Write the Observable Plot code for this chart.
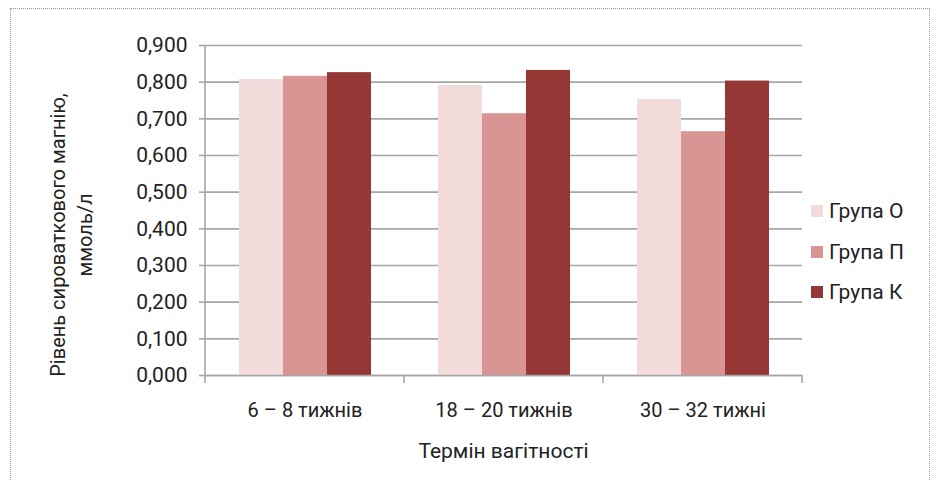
<!DOCTYPE html>
<html><head><meta charset="utf-8">
<script src="https://cdn.jsdelivr.net/npm/d3@7"></script>
<script src="https://cdn.jsdelivr.net/npm/@observablehq/plot@0.6"></script>
<style>
body{margin:0;background:#fff;}
#wrap{position:relative;width:941px;height:481px;overflow:hidden;font-family:Roboto,"Noto Sans",sans-serif;color:#222;}
#border{position:absolute;left:10px;top:8px;width:920px;height:490px;border:1px dotted #9a9a9a;box-sizing:border-box;}
#legend{position:absolute;left:811px;top:191px;font-size:21px;}
#legend .item{display:flex;align-items:center;height:40.5px;}
#legend .sw{width:12px;height:12px;margin-right:6px;}
svg{position:absolute;left:0;top:0;}
</style>
</head><body>
<div id="wrap"><div id="border"></div></div>
<script>
const periods = ["6 – 8 тижнів", "18 – 20 тижнів", "30 – 32 тижні"];
const groups = ["Група О", "Група П", "Група К"];
const valuesO = [0.807, 0.791, 0.753];
const valuesP = [0.816, 0.714, 0.665];
const valuesK = [0.826, 0.832, 0.803];
const colors = ["#f2dcdb", "#d99594", "#953735"];
const yTicks = [0, 0.1, 0.2, 0.3, 0.4, 0.5, 0.6, 0.7, 0.8, 0.9];
const yLabelLines = ["Рівень сироваткового магнію,", "ммоль/л"];
const xLabel = "Термін вагітності";

const series = [valuesO, valuesP, valuesK];
const data = periods.flatMap((p, i) => groups.map((g, j) => ({period: p, group: g, value: series[j][i]})));

const FONT = 'Roboto, "Noto Sans", sans-serif';
const GRID = "#a6a6a6";

const chart = Plot.plot({
  width: 941, height: 481,
  marginLeft: 204, marginRight: 138, marginTop: 45, marginBottom: 106,
  style: {fontFamily: FONT, fontSize: "17px", color: "#222", background: "transparent", overflow: "visible"},
  fx: {domain: periods, padding: 0, label: null},
  x: {domain: groups, paddingInner: 0, paddingOuter: 0.75, axis: null},
  y: {domain: [0, 0.9], label: null},
  color: {domain: groups, range: colors},
  marks: [
    Plot.gridY(yTicks, {stroke: GRID, strokeOpacity: 1, strokeWidth: 1.6}),
    Plot.barY(data, {fx: "period", x: "group", y: "value", fill: "group"}),
    Plot.ruleY([0], {stroke: GRID, strokeWidth: 1.6}),
    Plot.axisY(yTicks, {tickSize: 6, tickPadding: 12, fontSize: 21, stroke: GRID, strokeWidth: 1.6,
      tickFormat: d => d.toFixed(3).replace(".", ","), label: null}),
    Plot.axisFx({anchor: "bottom", tickSize: 0, tickPadding: 27, fontSize: 20, label: null})
  ]
});

const wrap = document.getElementById("wrap");
wrap.insertBefore(chart, wrap.firstChild);

const svg = d3.select(chart);
const fx = chart.scale("fx");
const y = chart.scale("y");
const y0 = y.apply(0), yTop = y.apply(0.9);
const edges = periods.map(p => fx.apply(p)).concat([fx.apply(periods[periods.length - 1]) + fx.bandwidth]);
const g = svg.append("g").attr("stroke", GRID).attr("stroke-width", 1.6);
g.append("line").attr("x1", edges[0]).attr("x2", edges[0]).attr("y1", yTop).attr("y2", y0 + 8);
edges.slice(1).forEach(x => g.append("line").attr("x1", x).attr("x2", x).attr("y1", y0).attr("y2", y0 + 8));

yLabelLines.forEach((t, i) => {
  svg.append("text").attr("transform", `translate(${60 + i * 27},${(y0 + yTop) / 2 + 25}) rotate(-90)`)
    .attr("text-anchor", "middle").attr("dominant-baseline", "middle")
    .attr("font-size", 20).attr("fill", "#222").attr("font-family", FONT).text(t);
});
svg.append("text").attr("x", (edges[0] + edges[edges.length - 1]) / 2).attr("y", y0 + 77)
  .attr("text-anchor", "middle").attr("dominant-baseline", "middle")
  .attr("font-size", 21).attr("fill", "#222").attr("font-family", FONT).text(xLabel);

const legend = d3.select(wrap).append("div").attr("id", "legend");
groups.forEach((gname, i) => {
  const it = legend.append("div").attr("class", "item");
  it.append("div").attr("class", "sw").style("background", chart.scale("color").apply(gname));
  it.append("span").text(gname);
});
</script>
</body></html>
